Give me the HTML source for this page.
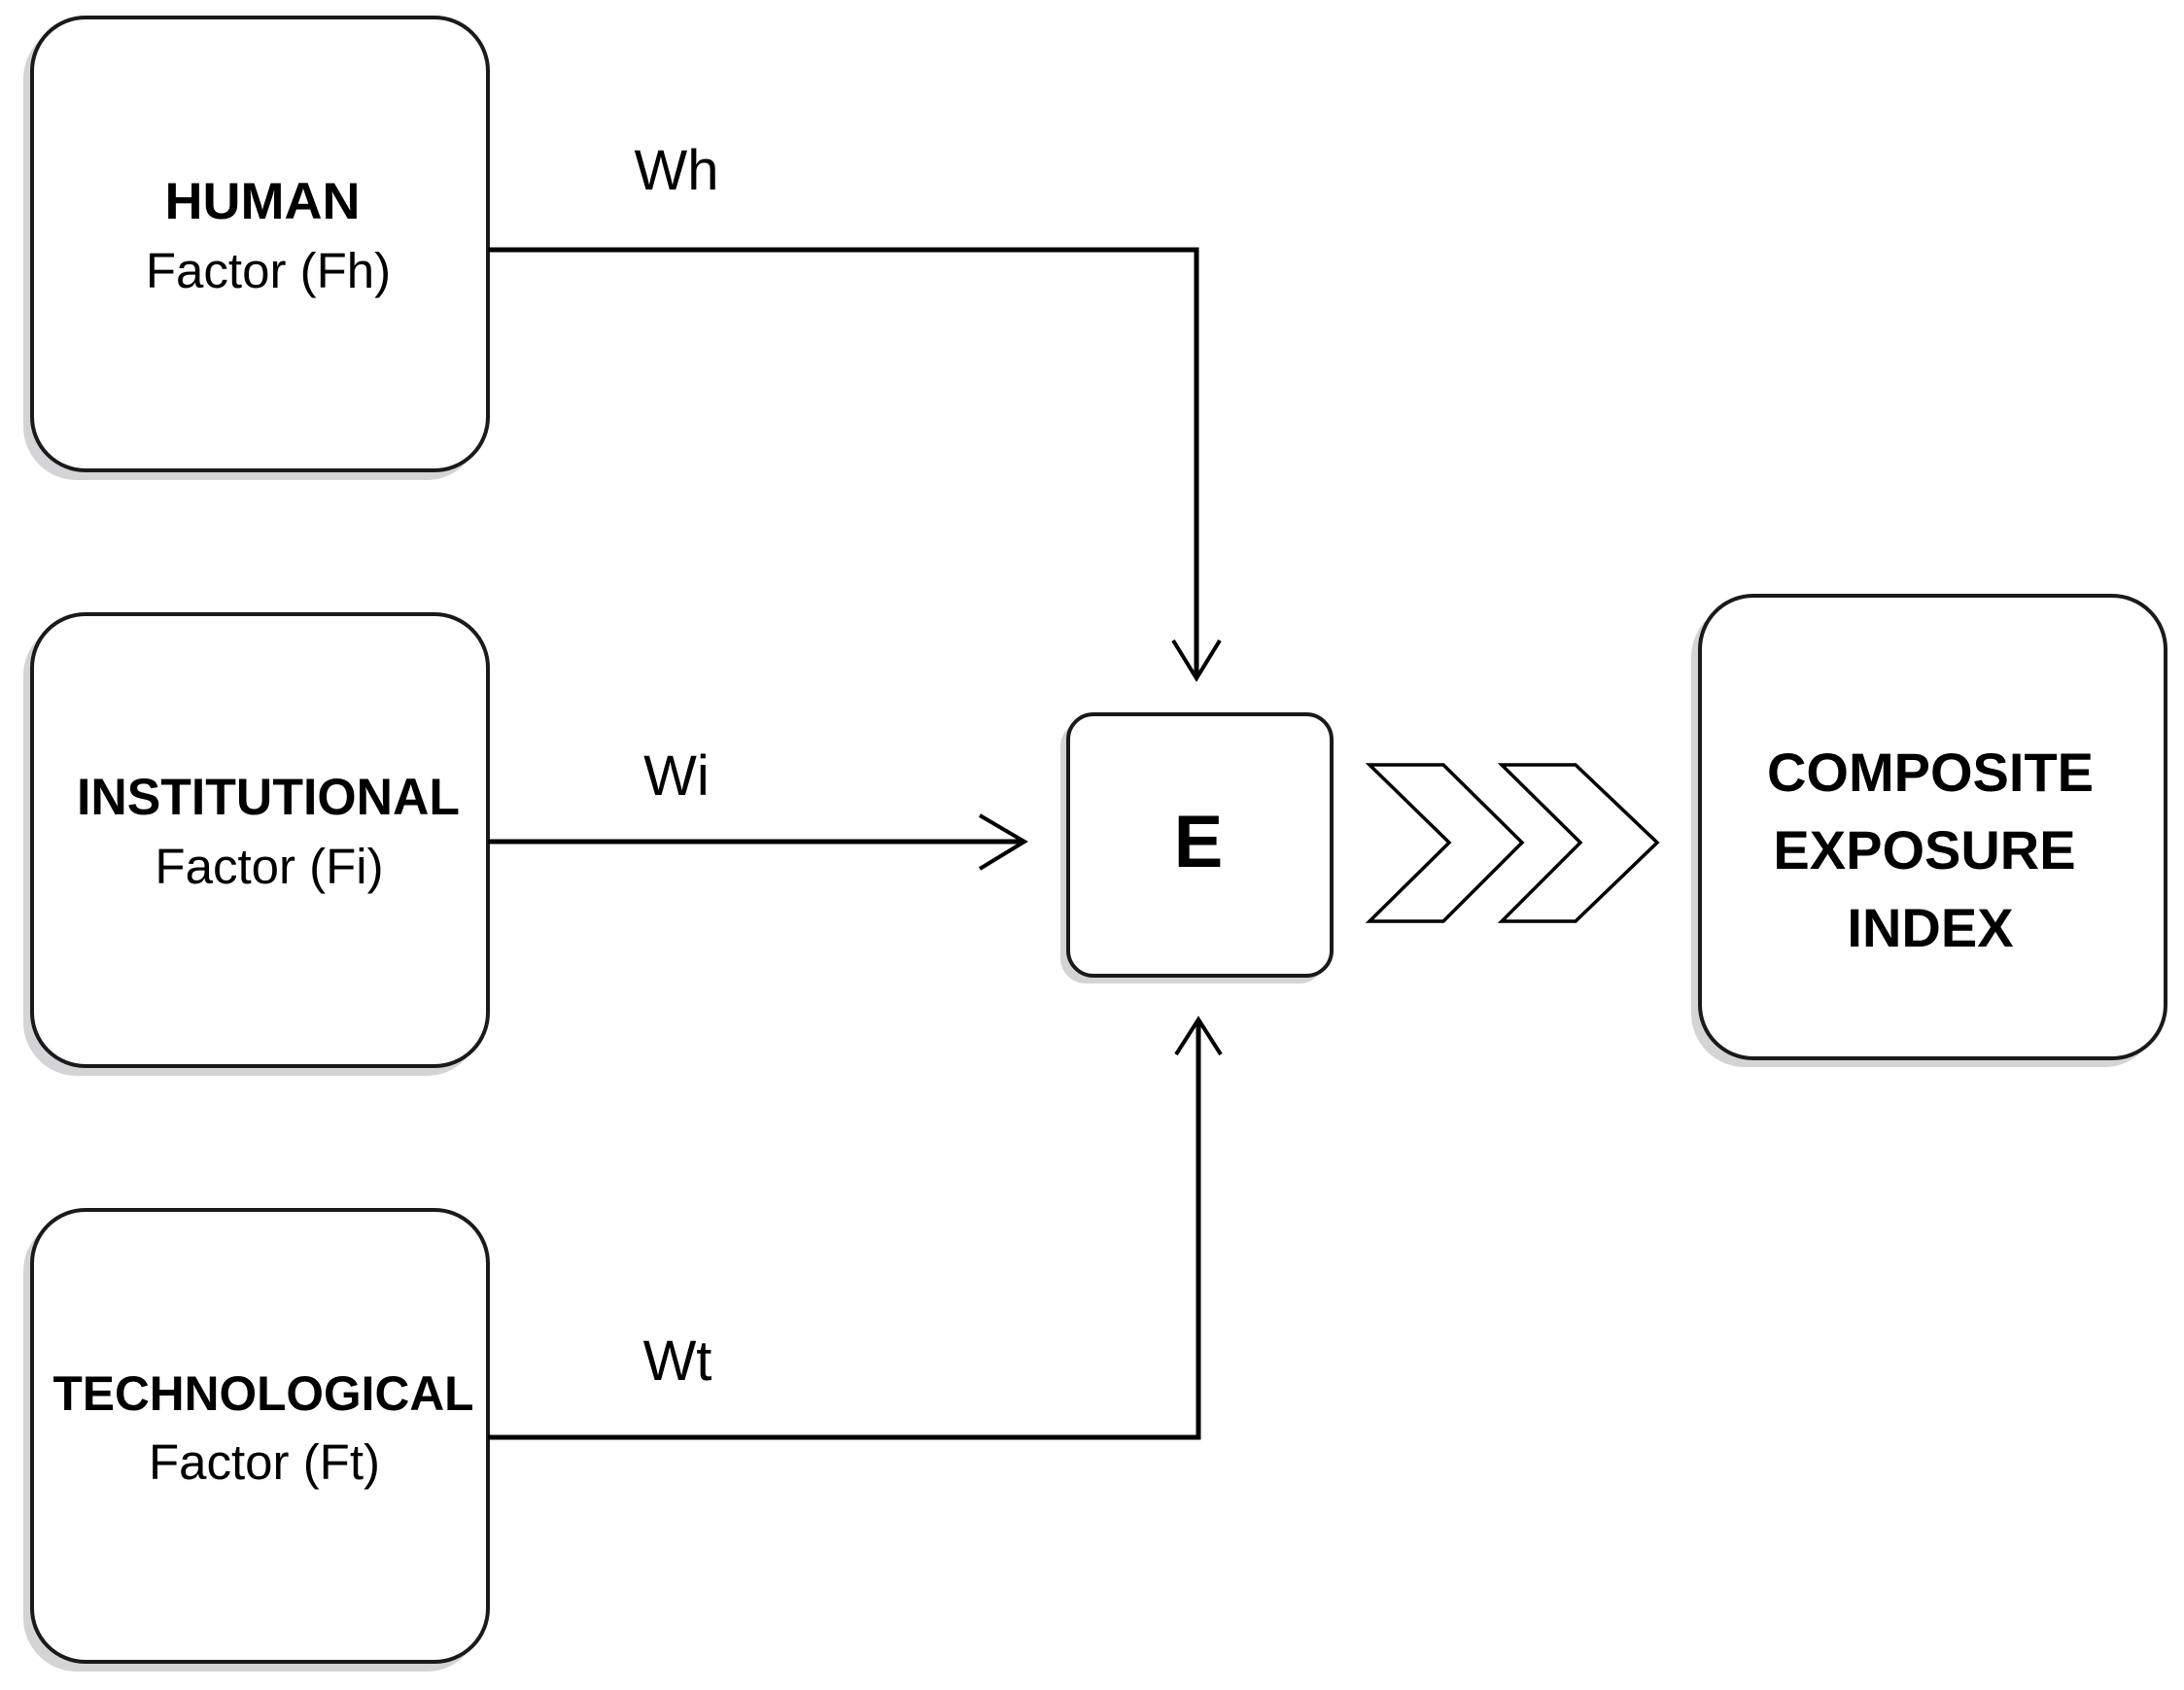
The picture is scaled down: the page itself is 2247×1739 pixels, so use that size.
<!DOCTYPE html>
<html><head><meta charset="utf-8"><style>
html,body{margin:0;padding:0;background:#fff;}
svg{display:block;}
text{font-family:"Liberation Sans",sans-serif;fill:#000;}
</style></head><body>
<svg width="2247" height="1739" viewBox="0 0 2247 1739" xmlns="http://www.w3.org/2000/svg">
<g fill="#d4d4d6">
<rect x="24" y="26" width="470" height="468" rx="55"/>
<rect x="24" y="640" width="470" height="467" rx="55"/>
<rect x="24" y="1253" width="470" height="467" rx="55"/>
<rect x="1091" y="742" width="272" height="270" rx="26"/>
<rect x="1740" y="621" width="480" height="477" rx="55"/>
</g>
<g fill="#fff" stroke="#1a1a1a" stroke-width="4">
<rect x="33" y="18" width="469" height="466" rx="55"/>
<rect x="33" y="632" width="469" height="465" rx="55"/>
<rect x="33" y="1245" width="469" height="465" rx="55"/>
<rect x="1099" y="735" width="271" height="269" rx="26"/>
<rect x="1749" y="613" width="479" height="476" rx="55"/>
</g>
<g fill="none" stroke="#000" stroke-width="5">
<polyline points="502,257 1231,257 1231,696"/>
<polyline points="1207,659 1231,698 1255,659" stroke-width="4"/>
<line x1="502" y1="866" x2="1054" y2="866"/>
<polyline points="1008,839 1054,866 1008,894" stroke-width="4"/>
<polyline points="502,1479 1233,1479 1233,1050"/>
<polyline points="1210,1085 1233,1049 1256,1085" stroke-width="4"/>
</g>
<g fill="#fff" stroke="#000" stroke-width="3.5">
<polygon points="1409,787 1485,787 1566,867 1485,948 1409,948 1491,867"/>
<polygon points="1545,787 1621,787 1705,867 1621,948 1545,948 1626,867"/>
</g>
<g text-anchor="middle">
<text x="270" y="225" font-size="53" font-weight="bold" textLength="201" lengthAdjust="spacingAndGlyphs">HUMAN</text>
<text x="276" y="296" font-size="51">Factor (Fh)</text>
<text x="276" y="838" font-size="53" font-weight="bold" textLength="394" lengthAdjust="spacingAndGlyphs">INSTITUTIONAL</text>
<text x="277" y="909" font-size="51">Factor (Fi)</text>
<text x="271" y="1451" font-size="50" font-weight="bold" textLength="433" lengthAdjust="spacingAndGlyphs">TECHNOLOGICAL</text>
<text x="272" y="1522" font-size="51">Factor (Ft)</text>
<text x="696" y="195" font-size="58">Wh</text>
<text x="696" y="818" font-size="58">Wi</text>
<text x="697" y="1420" font-size="58">Wt</text>
<text x="1233" y="892" font-size="76" font-weight="bold">E</text>
<text x="1986" y="814" font-size="56" font-weight="bold">COMPOSITE</text>
<text x="1980" y="894" font-size="56" font-weight="bold">EXPOSURE</text>
<text x="1986" y="974" font-size="56" font-weight="bold">INDEX</text>
</g>
</svg>
</body></html>
